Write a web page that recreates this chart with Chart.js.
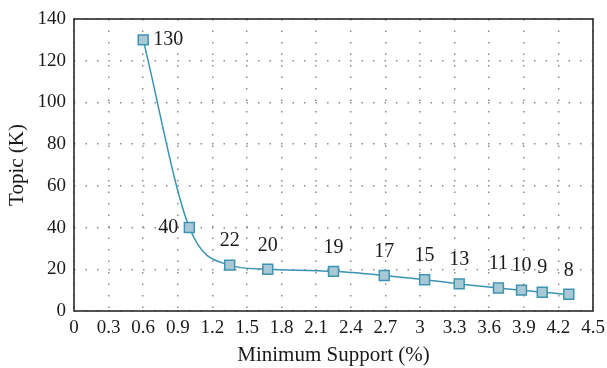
<!DOCTYPE html>
<html>
<head>
<meta charset="utf-8">
<script src="https://cdn.jsdelivr.net/npm/chart.js@4.4.0/dist/chart.umd.min.js"></script>
<style>
html,body{margin:0;padding:0;background:#fff;}
#wrap{width:607px;height:368px;}
</style>
</head>
<body>
<div id="wrap"><canvas id="c" width="607" height="368"></canvas></div>
<script>
const supportValues = [0.6, 1.0, 1.35, 1.68, 2.25, 2.69, 3.04, 3.34, 3.68, 3.88, 4.06, 4.29];
const topicValues = [130, 40, 22, 20, 19, 17, 15, 13, 11, 10, 9, 8];
const xTicks = [0, 0.3, 0.6, 0.9, 1.2, 1.5, 1.8, 2.1, 2.4, 2.7, 3, 3.3, 3.6, 3.9, 4.2, 4.5];
const yTicks = [0, 20, 40, 60, 80, 100, 120, 140];
const xTitle = 'Minimum Support (%)';
const yTitle = 'Topic (K)';

const FONT = '"Liberation Serif", "DejaVu Serif", serif';

const points = supportValues.map((x, i) => ({x: x, y: topicValues[i]}));

const frame = {
  id: 'frame',
  afterDraw(chart) {
    const a = chart.chartArea, ctx = chart.ctx;
    ctx.save();
    ctx.strokeStyle = '#2a2a2a';
    ctx.lineWidth = 1.6;
    ctx.strokeRect(a.left, a.top, a.right - a.left, a.bottom - a.top);
    ctx.restore();
  }
};

const labels = {
  id: 'valueLabels',
  afterDatasetsDraw(chart) {
    const meta = chart.getDatasetMeta(0);
    const ctx = chart.ctx;
    ctx.save();
    ctx.font = '20px ' + FONT;
    ctx.fillStyle = '#1a1a1a';
    ctx.textBaseline = 'middle';
    meta.data.forEach((pt, i) => {
      const txt = String(topicValues[i]);
      if (i === 0) {
        ctx.textAlign = 'left';
        ctx.fillText(txt, pt.x + 10, pt.y);
      } else if (i === 1) {
        ctx.textAlign = 'right';
        ctx.fillText(txt, pt.x - 11, pt.y);
      } else {
        ctx.textAlign = 'center';
        ctx.fillText(txt, pt.x, pt.y - 24);
      }
    });
    ctx.restore();
  }
};

new Chart(document.getElementById('c'), {
  type: 'scatter',
  data: {
    datasets: [{
      data: points,
      showLine: true,
      borderColor: '#3b93b3',
      borderWidth: 1.5,
      cubicInterpolationMode: 'monotone',
      pointStyle: 'rect',
      pointRadius: 7,
      pointBackgroundColor: '#a9c8d5',
      pointBorderColor: '#3f93b2',
      pointBorderWidth: 1.5
    }]
  },
  options: {
    responsive: false,
    animation: false,
    events: [],
    layout: {padding: {top: 19, right: 14, left: 0, bottom: 0}},
    plugins: {legend: {display: false}, tooltip: {enabled: false}},
    scales: {
      x: {
        type: 'linear',
        min: 0, max: 4.5,
        afterBuildTicks(s) { s.ticks = xTicks.map(v => ({value: v})); },
        afterFit(s) { s.height = 368 - 311; s.paddingLeft = 0; s.paddingRight = 0; },
        ticks: {
          font: {family: FONT, size: 19},
          color: '#1a1a1a',
          padding: 6,
          maxRotation: 0,
          autoSkip: false,
          callback: v => String(v)
        },
        grid: {color: '#8a8a8a', lineWidth: 1.5, drawTicks: false},
        border: {display: false, dash: [1.5, 10]},
        title: {display: true, text: xTitle, font: {family: FONT, size: 21}, color: '#1a1a1a', padding: {top: 2, bottom: 0}}
      },
      y: {
        type: 'linear',
        min: 0, max: 140,
        afterBuildTicks(s) { s.ticks = yTicks.map(v => ({value: v})); },
        afterFit(s) { s.width = 74; s.paddingTop = 0; s.paddingBottom = 0; },
        ticks: {
          font: {family: FONT, size: 19},
          color: '#1a1a1a',
          padding: 8,
          autoSkip: false
        },
        grid: {color: '#8a8a8a', lineWidth: 1.5, drawTicks: false},
        border: {display: false, dash: [1.5, 10]},
        title: {display: true, text: yTitle, font: {family: FONT, size: 21}, color: '#1a1a1a', padding: {top: 5, bottom: 4}}
      }
    }
  },
  plugins: [frame, labels]
});
</script>
</body>
</html>
